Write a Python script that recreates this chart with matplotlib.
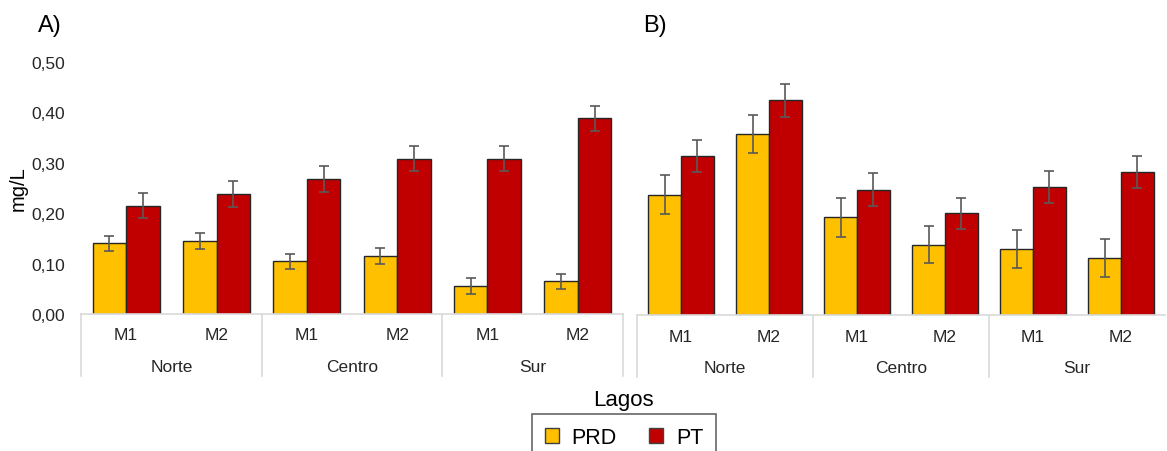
import matplotlib.pyplot as plt
from matplotlib.patches import Patch
import matplotlib.transforms as mtransforms

plt.rcParams['font.family'] = ['Liberation Sans', 'DejaVu Sans']

zonas = ["Norte", "Centro", "Sur"]
muestras = ["M1", "M2"]
series = ["PRD", "PT"]
colores = ["#FFC000", "#C00000"]

# panel A
prd_a = [0.140, 0.145, 0.105, 0.115, 0.055, 0.065]
pt_a = [0.215, 0.238, 0.268, 0.308, 0.308, 0.388]
prd_a_err = [0.015, 0.016, 0.015, 0.015, 0.016, 0.015]
pt_a_err = [0.025, 0.025, 0.025, 0.025, 0.025, 0.025]

# panel B
prd_b = [0.238, 0.358, 0.193, 0.139, 0.130, 0.113]
pt_b = [0.314, 0.424, 0.248, 0.201, 0.253, 0.283]
prd_b_err = [0.038, 0.038, 0.038, 0.037, 0.038, 0.038]
pt_b_err = [0.031, 0.032, 0.032, 0.031, 0.031, 0.032]

yticks = [0.0, 0.1, 0.2, 0.3, 0.4, 0.5]

W, H = 1167, 452
fig = plt.figure(figsize=(W / 100, H / 100), dpi=100)


def px_axes(left, right, top, bottom):
    return fig.add_axes([left / W, 1 - bottom / H, (right - left) / W, (bottom - top) / H])


def dibujar(ax, prd, pt, prd_err, pt_err, borde_der=True):
    x = list(range(6))
    bw = 0.37
    ax.bar([i - bw / 2 for i in x], prd, bw, color=colores[0], edgecolor="#262626", linewidth=1, zorder=2)
    ax.bar([i + bw / 2 for i in x], pt, bw, color=colores[1], edgecolor="#262626", linewidth=1, zorder=2)
    ax.errorbar([i - bw / 2 for i in x], prd, yerr=prd_err, fmt="none", ecolor="#595959",
                elinewidth=1.2, capsize=3.5, capthick=1.2, zorder=3)
    ax.errorbar([i + bw / 2 for i in x], pt, yerr=pt_err, fmt="none", ecolor="#595959",
                elinewidth=1.2, capsize=3.5, capthick=1.2, zorder=3)
    ax.set_xlim(-0.5, 5.5)
    ax.set_ylim(0, 0.5)
    for s in ["top", "right", "left"]:
        ax.spines[s].set_visible(False)
    ax.spines["bottom"].set_color("#d9d9d9")
    ax.spines["bottom"].set_linewidth(1.2)
    ax.set_xticks([])

    # tabla de categorias bajo el eje
    trans = mtransforms.blended_transform_factory(ax.transData, ax.transAxes)
    fondo = -62 / 252
    lineas = [-0.5, 1.5, 3.5] + ([5.5] if borde_der else [])
    for xl in lineas:
        ax.plot([xl, xl], [0, fondo], transform=trans, color="#d9d9d9", lw=1.2, clip_on=False)
    for i in x:
        ax.text(i, -21 / 252, muestras[i % 2], transform=trans, ha="center", va="center",
                fontsize=12.5, color="#262626")
    for g, z in enumerate(zonas):
        ax.text(2 * g + 0.5, -52 / 252, z, transform=trans, ha="center", va="center",
                fontsize=12.5, color="#262626")


ax_a = px_axes(81, 623, 63, 315)
dibujar(ax_a, prd_a, pt_a, prd_a_err, pt_a_err)
ax_a.set_yticks(yticks)
ax_a.set_yticklabels([f"{v:.2f}".replace(".", ",") for v in yticks], fontsize=12.5, color="#262626")
ax_a.tick_params(axis="y", length=0, pad=11.5)

ax_b = px_axes(637, 1165, 63, 316)
dibujar(ax_b, prd_b, pt_b, prd_b_err, pt_b_err, borde_der=False)
ax_b.set_yticks([])

fig.text(18 / W, 1 - 189 / H, "mg/L", rotation=90, ha="center", va="center", fontsize=14.5)
fig.text(38 / W, 1 - 26 / H, "A)", ha="left", va="center", fontsize=17)
fig.text(643 / W, 1 - 26 / H, "B)", ha="left", va="center", fontsize=17)
fig.text(623 / W, 1 - 401 / H, "Lagos", ha="center", va="center", fontsize=16)

handles = [Patch(facecolor=c, edgecolor="#404040", label=s) for c, s in zip(colores, series)]
leg = fig.legend(handles=handles, ncol=2, loc="upper center", bbox_to_anchor=(624 / W, 1 - 415 / H),
                 fontsize=15.5, frameon=True, fancybox=False, handlelength=0.65, handleheight=0.65,
                 handletextpad=0.6, columnspacing=1.5, borderpad=0.6, borderaxespad=0)
leg.get_frame().set_edgecolor("#404040")
leg.get_frame().set_linewidth(1.2)

fig.savefig("out.png", dpi=100)
